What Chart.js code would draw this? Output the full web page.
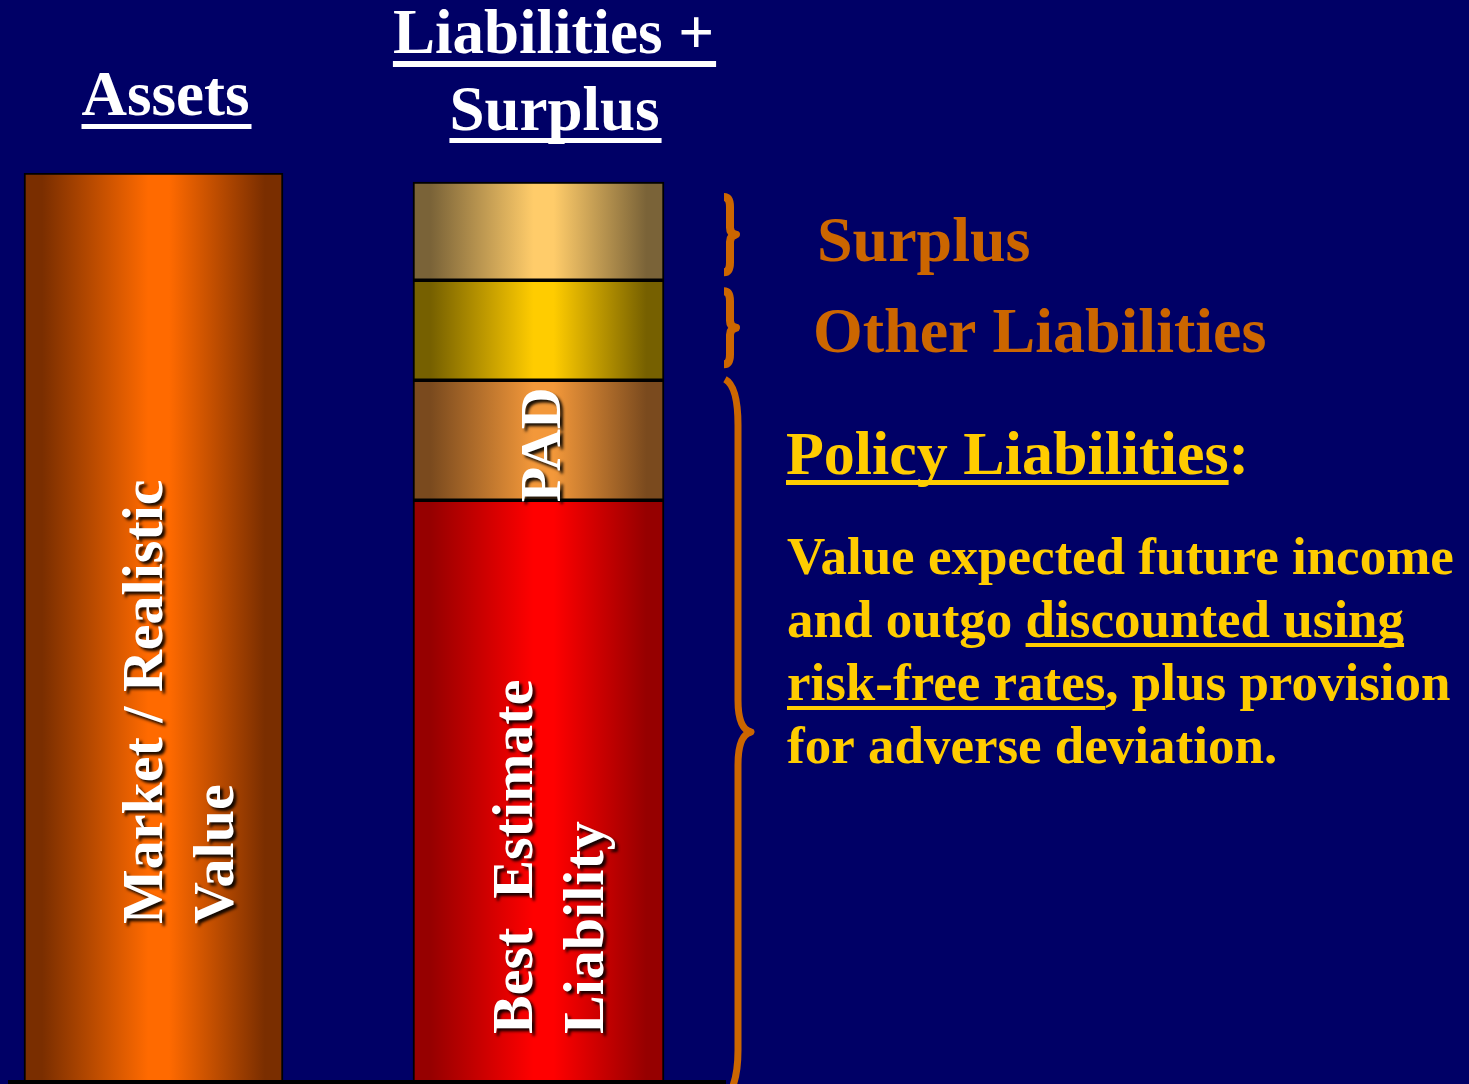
<!DOCTYPE html>
<html><head><meta charset="utf-8">
<script src="https://cdn.jsdelivr.net/npm/chart.js@4.4.1/dist/chart.umd.min.js"></script>
<style>
html,body{margin:0;padding:0;background:#000066;overflow:hidden;}
#wrap{position:absolute;left:0;top:0;width:1469px;height:1084px;}
</style></head><body>
<div id="wrap"><canvas id="c"></canvas></div>
<script>
// ---- data ----
const categories = ['Assets', 'Liabilities + Surplus'];
const categoryPos = [1, 2];
const assetsValues = [100, null];
const bestEstimateValues = [null, 64.0];
const padValues = [null, 13.2];
const otherLiabValues = [null, 11.0];
const surplusValues = [null, 10.8];

const titleLines = [['Assets'], ['Liabilities +', 'Surplus']];
const assetsLabelLines = ['Market / Realistic', 'Value'];
const belLabelLines = ['Best  Estimate', 'Liability'];
const padLabelLines = ['PAD'];
const braceLabels = ['Surplus', 'Other Liabilities'];
const policyHeading = 'Policy Liabilities';
const policyLines = [
  [['Value expected future income', false]],
  [['and outgo ', false], ['discounted using', true]],
  [['risk-free rates', true], [', plus provision', false]],
  [['for adverse deviation.', false]]
];

const SERIF = "'Liberation Serif','Times New Roman',Times,serif";
const ORANGE = '#cc6600';
const YELLOW = '#ffcc00';

function gradFill(dark, bright) {
  return function (ctx) {
    const chart = ctx.chart;
    if (!chart.chartArea) return bright;
    const cx = chart.scales.x.getPixelForValue(categoryPos[ctx.dataIndex]);
    const w = chart.data.datasets[ctx.datasetIndex].barThickness;
    const g = chart.ctx.createLinearGradient(cx - w / 2, 0, cx + w / 2, 0);
    g.addColorStop(0, dark);
    g.addColorStop(0.07, dark);
    g.addColorStop(0.48, bright);
    g.addColorStop(0.56, bright);
    g.addColorStop(0.93, dark);
    g.addColorStop(1, dark);
    return g;
  };
}

function series(vals) {
  return categoryPos.map((x, i) => ({ x: x, y: vals[i] }));
}

function mkSet(label, vals, thick, dark, bright) {
  return {
    label: label,
    data: series(vals),
    barThickness: thick,
    backgroundColor: gradFill(dark, bright),
    borderColor: '#000',
    borderWidth: 2,
    borderSkipped: false
  };
}

function rotText(ctx, lines, x0, y0, spacing) {
  ctx.save();
  ctx.font = 'bold 58px ' + SERIF;
  ctx.fillStyle = '#ffffff';
  ctx.shadowColor = 'rgba(0,0,0,0.9)';
  ctx.shadowBlur = 3;
  ctx.shadowOffsetX = 3;
  ctx.shadowOffsetY = 3;
  lines.forEach((t, i) => {
    ctx.save();
    ctx.translate(x0 + i * spacing, y0);
    ctx.rotate(-Math.PI / 2);
    ctx.textAlign = 'left';
    ctx.textBaseline = 'alphabetic';
    ctx.fillText(t, 0, 0);
    ctx.restore();
  });
  ctx.restore();
}

function centeredUnderlined(ctx, text, cx, baseline, color, font, ulOff, ulTh) {
  ctx.font = font;
  ctx.fillStyle = color;
  const w = ctx.measureText(text).width;
  ctx.textAlign = 'left';
  ctx.textBaseline = 'alphabetic';
  ctx.fillText(text, cx - w / 2, baseline);
  ctx.fillRect(cx - w / 2, baseline + ulOff, w + 2, ulTh);
}

function smallBrace(ctx, top, bottom) {
  const mid = (top + bottom) / 2;
  const x0 = 724, x1 = 730, x2 = 736;
  ctx.beginPath();
  ctx.moveTo(x0, top);
  ctx.quadraticCurveTo(x1, top, x1, top + 10);
  ctx.lineTo(x1, mid - 7);
  ctx.quadraticCurveTo(x1, mid - 1, x2, mid);
  ctx.quadraticCurveTo(x1, mid + 1, x1, mid + 7);
  ctx.lineTo(x1, bottom - 10);
  ctx.quadraticCurveTo(x1, bottom, x0, bottom);
  ctx.stroke();
}

const annotate = {
  id: 'annotate',
  afterDraw(chart) {
    const ctx = chart.ctx;
    const a = chart.getDatasetMeta(0).data[0];
    const bel = chart.getDatasetMeta(1).data[1];
    const pad = chart.getDatasetMeta(2).data[1];
    const oth = chart.getDatasetMeta(3).data[1];
    const sur = chart.getDatasetMeta(4).data[1];

    // in-bar rotated labels
    rotText(ctx, assetsLabelLines, a.x + 8.5, a.base - 158, 71);
    rotText(ctx, belLabelLines, bel.x - 6.5, bel.base - 48, 71);
    rotText(ctx, padLabelLines, pad.x + 21.5, pad.base + 2, 71);

    // column titles
    ctx.save();
    const tf = 'bold 63px ' + SERIF;
    centeredUnderlined(ctx, titleLines[0][0], a.x + 12, 115, '#ffffff', tf, 9, 5);
    centeredUnderlined(ctx, titleLines[1][0], bel.x + 15, 53, '#ffffff', tf, 8, 6);
    centeredUnderlined(ctx, titleLines[1][1], bel.x + 16, 130, '#ffffff', tf, 8, 5);
    ctx.restore();

    // braces
    ctx.save();
    ctx.strokeStyle = ORANGE;
    ctx.lineWidth = 8;
    ctx.lineCap = 'butt';
    ctx.lineJoin = 'round';
    smallBrace(ctx, sur.y + 15, sur.base - 8);
    smallBrace(ctx, oth.y + 11, oth.base - 16);
    ctx.lineWidth = 7;
    ctx.beginPath();
    ctx.moveTo(725, pad.y - 1);
    ctx.quadraticCurveTo(738, pad.y + 6, 738, pad.y + 45);
    ctx.lineTo(738, 700);
    ctx.quadraticCurveTo(738, 729, 751, 732);
    ctx.quadraticCurveTo(738, 735, 738, 765);
    ctx.lineTo(738, 1050);
    ctx.quadraticCurveTo(738, 1085, 725, 1100);
    ctx.stroke();
    ctx.restore();

    // brace labels
    ctx.save();
    ctx.font = 'bold 64px ' + SERIF;
    ctx.fillStyle = ORANGE;
    ctx.textAlign = 'left';
    ctx.textBaseline = 'alphabetic';
    ctx.fillText(braceLabels[0], 817, 261);
    ctx.fillText(braceLabels[1], 813, 352);
    ctx.restore();

    // policy heading
    ctx.save();
    ctx.font = 'bold 62px ' + SERIF;
    ctx.fillStyle = YELLOW;
    ctx.textAlign = 'left';
    ctx.textBaseline = 'alphabetic';
    ctx.fillText(policyHeading, 786, 474);
    const hw = ctx.measureText(policyHeading).width;
    ctx.fillRect(786, 480, hw, 5);
    ctx.fillText(':', 786 + hw, 474);
    ctx.restore();

    // paragraph
    ctx.save();
    ctx.font = 'bold 53px ' + SERIF;
    ctx.fillStyle = YELLOW;
    ctx.textAlign = 'left';
    ctx.textBaseline = 'alphabetic';
    const baselines = [574, 637, 700, 763];
    policyLines.forEach((segs, li) => {
      let x = 787;
      const y = baselines[li];
      segs.forEach(([t, ul]) => {
        ctx.fillText(t, x, y);
        const w = ctx.measureText(t).width;
        if (ul) ctx.fillRect(x, y + 6, w, 4);
        x += w;
      });
    });
    ctx.restore();
  }
};

new Chart(document.getElementById('c'), {
  type: 'bar',
  data: {
    labels: categories,
    datasets: [
      mkSet('Market / Realistic Value', assetsValues, 259, '#7a2e00', '#ff6a00'),
      mkSet('Best Estimate Liability', bestEstimateValues, 251, '#960000', '#ff0000'),
      mkSet('PAD', padValues, 251, '#7a4a1e', '#f3983a'),
      mkSet('Other Liabilities', otherLiabValues, 251, '#766000', '#ffcc00'),
      mkSet('Surplus', surplusValues, 251, '#7a6338', '#ffcc6a')
    ]
  },
  options: {
    responsive: true,
    maintainAspectRatio: false,
    animation: false,
    layout: { padding: { left: 10, right: 744, top: 173, bottom: 2 } },
    plugins: { legend: { display: false }, tooltip: { enabled: false } },
    scales: {
      x: {
        type: 'linear',
        min: 0.62727,
        max: 2.48442,
        offset: false,
        stacked: true,
        grid: { display: false, drawTicks: false, offset: false },
        ticks: { display: false },
        border: { display: true, color: '#000', width: 4, z: 1 }
      },
      y: { stacked: true, min: 0, max: 100, display: false }
    }
  },
  plugins: [annotate]
});
</script>
</body></html>
